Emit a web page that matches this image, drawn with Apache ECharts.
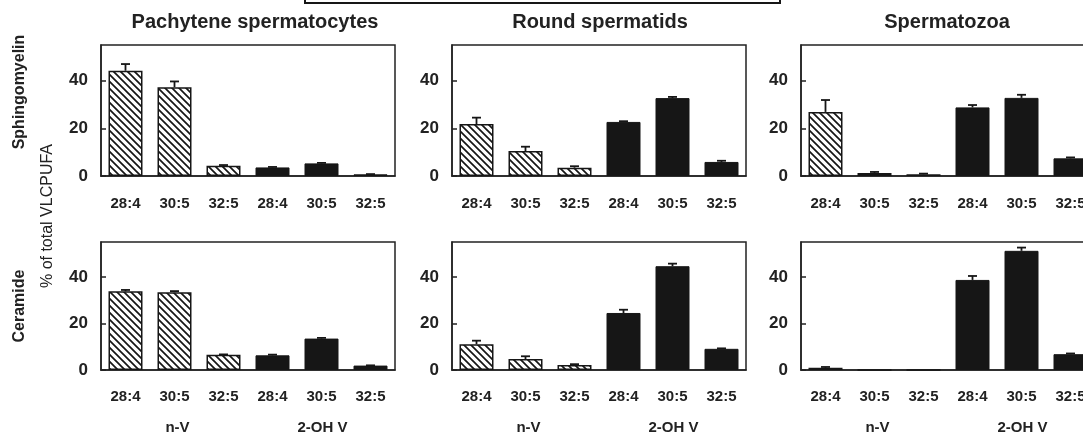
<!DOCTYPE html>
<html>
<head>
<meta charset="utf-8">
<script src="https://cdn.jsdelivr.net/npm/echarts@6/dist/echarts.min.js"></script>
<style>
html,body{margin:0;padding:0;background:#fff;}
#chart{width:1083px;height:433px;}
</style>
</head>
<body>
<div id="chart"></div>
<script>
// ---------- data ----------
const lipids = ['28:4', '30:5', '32:5'];
const groups = ['n-V', '2-OH V'];
const cellTypes = ['Pachytene spermatocytes', 'Round spermatids', 'Spermatozoa'];
const lipidClasses = ['Sphingomyelin', 'Ceramide'];
const yLabel = '% of total VLCPUFA';
const yTicks = [0, 20, 40];

// Sphingomyelin
const smPachyNV = [44.2, 37.3, 4.3];
const smPachyNVErr = [2.8, 2.4, 0.3];
const smPachyOH = [3.6, 5.3, 0.7];
const smPachyOHErr = [0.2, 0.2, 0.1];
const smRoundNV = [21.8, 10.5, 3.5];
const smRoundNVErr = [2.7, 1.8, 0.6];
const smRoundOH = [22.7, 32.7, 5.9];
const smRoundOHErr = [0.3, 0.5, 0.5];
const smSpermNV = [26.9, 1.3, 0.7];
const smSpermNVErr = [5.0, 0.4, 0.3];
const smSpermOH = [28.8, 32.8, 7.4];
const smSpermOHErr = [1.0, 1.3, 0.4];
// Ceramide
const cerPachyNV = [33.8, 33.4, 6.5];
const cerPachyNVErr = [0.6, 0.5, 0.2];
const cerPachyOH = [6.3, 13.5, 1.9];
const cerPachyOHErr = [0.3, 0.3, 0.1];
const cerRoundNV = [11.1, 4.7, 2.2];
const cerRoundNVErr = [1.5, 1.2, 0.3];
const cerRoundOH = [24.5, 44.6, 9.1];
const cerRoundOHErr = [1.4, 1.1, 0.2];
const cerSpermNV = [1.0, 0, 0];
const cerSpermNVErr = [0.3, 0, 0];
const cerSpermOH = [38.7, 51.2, 6.8];
const cerSpermOHErr = [1.7, 1.4, 0.3];

const panels = [
  [smPachyNV, smPachyNVErr, smPachyOH, smPachyOHErr],
  [smRoundNV, smRoundNVErr, smRoundOH, smRoundOHErr],
  [smSpermNV, smSpermNVErr, smSpermOH, smSpermOHErr],
  [cerPachyNV, cerPachyNVErr, cerPachyOH, cerPachyOHErr],
  [cerRoundNV, cerRoundNVErr, cerRoundOH, cerRoundOHErr],
  [cerSpermNV, cerSpermNVErr, cerSpermOH, cerSpermOHErr]
];

// ---------- layout / style ----------
const FONT = '"Liberation Sans", Arial, Helvetica, sans-serif';
const INK = '#161616';
const colLeft = [101, 452, 801];
const colWidth = 294;
const rowTop = [45, 242];
const rowHeight = [131, 128];
const xLabelMargin = [20, 19];

function hatchPattern() {
  const c = document.createElement('canvas');
  const s = 7;
  c.width = s; c.height = s;
  const ctx = c.getContext('2d');
  ctx.fillStyle = '#fff';
  ctx.fillRect(0, 0, s, s);
  ctx.strokeStyle = INK;
  ctx.lineWidth = 1.7;
  ctx.beginPath();
  for (const k of [-s, 0, s]) {
    ctx.moveTo(k - 1, -1);
    ctx.lineTo(k + s + 1, s + 1);
  }
  ctx.stroke();
  return c;
}
const hatch = hatchPattern();
const xLabels = lipids.concat(lipids);

const chart = echarts.init(document.getElementById('chart'), null, {renderer: 'canvas'});

const grid = [], xAxis = [], yAxis = [], series = [];
for (let p = 0; p < 6; p++) {
  const r = Math.floor(p / 3), c = p % 3;
  grid.push({left: colLeft[c], top: rowTop[r], width: colWidth, height: rowHeight[r],
    outerBoundsMode: 'none', containLabel: false,
    show: true, borderColor: '#222', borderWidth: 1.5, backgroundColor: 'transparent'});
  xAxis.push({type: 'category', gridIndex: p, data: xLabels.map((l, i) => i),
    axisTick: {show: false},
    axisLine: {lineStyle: {color: '#222', width: 1.5}},
    axisLabel: {formatter: (v, i) => xLabels[i], interval: 0, margin: xLabelMargin[r],
      fontFamily: FONT, fontWeight: 'bold', fontSize: 15, color: '#222'}});
  yAxis.push({type: 'value', gridIndex: p, min: 0, max: 55, interval: 20,
    splitLine: {show: false},
    axisLine: {show: true, lineStyle: {color: '#222', width: 1.5}},
    axisTick: {show: true, inside: true, length: 5, lineStyle: {color: '#222', width: 1.5}},
    axisLabel: {showMaxLabel: false, margin: 13,
      formatter: v => (yTicks.indexOf(v) >= 0 ? String(v) : ''),
      fontFamily: FONT, fontWeight: 'bold', fontSize: 17, color: '#222'}});

  const [nv, nvErr, oh, ohErr] = panels[p];
  series.push({type: 'bar', name: groups[0], xAxisIndex: p, yAxisIndex: p,
    barWidth: 34, barGap: '-100%',
    data: nv.concat(['-', '-', '-']),
    itemStyle: {color: {image: hatch, repeat: 'repeat'}, borderColor: INK, borderWidth: 1.5},
    animation: false});
  series.push({type: 'bar', name: groups[1], xAxisIndex: p, yAxisIndex: p,
    barWidth: 34, barGap: '-100%',
    data: ['-', '-', '-'].concat(oh),
    itemStyle: {color: INK, borderColor: INK, borderWidth: 1},
    animation: false});
  const vals = nv.concat(oh), errs = nvErr.concat(ohErr);
  series.push({type: 'custom', xAxisIndex: p, yAxisIndex: p, z: 5,
    data: vals.map((v, i) => [i, v, errs[i]]),
    encode: {x: 0, y: 1},
    renderItem: function (params, api) {
      const i = api.value(0), v = api.value(1), e = api.value(2);
      if (!(e > 0)) return null;
      const p0 = api.coord([i, v]);
      const p1 = api.coord([i, v + e]);
      const st = {stroke: INK, lineWidth: 1.8};
      return {type: 'group', children: [
        {type: 'line', shape: {x1: p0[0], y1: p0[1], x2: p1[0], y2: p1[1]}, style: st},
        {type: 'line', shape: {x1: p1[0] - 4.5, y1: p1[1], x2: p1[0] + 4.5, y2: p1[1]}, style: st}
      ]};
    },
    animation: false});
}

const graphic = [];
// top framing box (cut off at image top)
graphic.push({type: 'rect', shape: {x: 305, y: -20, width: 475, height: 23},
  style: {fill: 'none', stroke: INK, lineWidth: 2}});
// column titles
const titleX = [255, 600, 947];
cellTypes.forEach((t, c) => graphic.push({type: 'text', x: titleX[c], y: 22,
  style: {text: t, font: 'bold 20px ' + FONT, fill: '#222', textAlign: 'center', textVerticalAlign: 'middle'}}));
// row labels
const rowLabelY = [92, 306];
lipidClasses.forEach((t, r) => graphic.push({type: 'text', x: 20, y: rowLabelY[r], rotation: Math.PI / 2,
  style: {text: t, font: 'bold 16px ' + FONT, fill: '#222', textAlign: 'center', textVerticalAlign: 'middle'}}));
graphic.push({type: 'text', x: 48, y: 216, rotation: Math.PI / 2,
  style: {text: yLabel, font: '16px ' + FONT, fill: '#222', textAlign: 'center', textVerticalAlign: 'middle'}});
// group labels under bottom row
const catW = colWidth / 6;
colLeft.forEach((L, c) => {
  graphic.push({type: 'text', x: L + catW * 1.5 + 3, y: 428,
    style: {text: groups[0], font: 'bold 15px ' + FONT, fill: '#222', textAlign: 'center', textVerticalAlign: 'middle'}});
  graphic.push({type: 'text', x: L + catW * 4.5 + 1, y: 428,
    style: {text: groups[1], font: 'bold 15px ' + FONT, fill: '#222', textAlign: 'center', textVerticalAlign: 'middle'}});
});

chart.setOption({
  backgroundColor: '#fff',
  animation: false,
  grid, xAxis, yAxis, series, graphic
});
</script>
</body>
</html>
